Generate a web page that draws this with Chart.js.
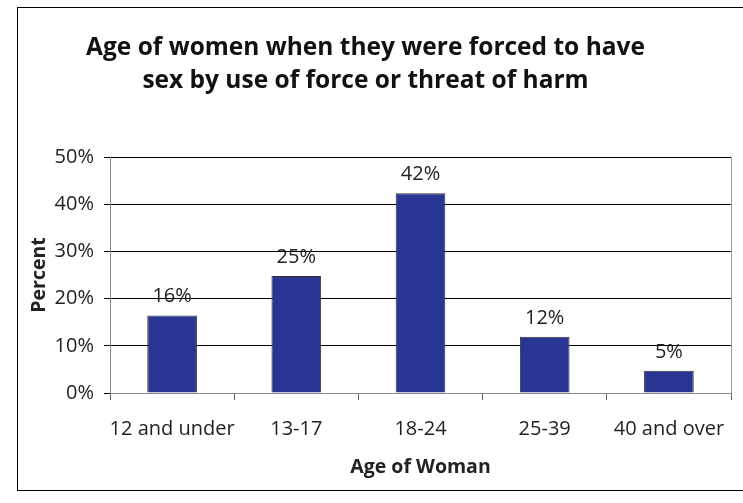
<!DOCTYPE html>
<html>
<head>
<meta charset="utf-8">
<script src="https://cdn.jsdelivr.net/npm/chart.js@4"></script>
<style>
  html, body { margin: 0; padding: 0; background: #fff; }
  #wrap { width: 743px; height: 503px; position: relative; }
</style>
</head>
<body>
<div id="wrap"><canvas id="chart"></canvas></div>
<script>
const categories = ['12 and under', '13-17', '18-24', '25-39', '40 and over'];
const percentValues = [16.4, 24.8, 42.3, 11.9, 4.7];
const percentLabels = ['16%', '25%', '42%', '12%', '5%'];
const yTicks = [0, 10, 20, 30, 40, 50];

const FONT = "'Open Sans', sans-serif";

// outer frame + plot area right edge
const framePlugin = {
    id: 'frame',
    beforeDraw(chart) {
        const c = chart.ctx;
        c.save();
        c.fillStyle = '#fff';
        c.fillRect(0, 0, chart.width, chart.height);
        c.strokeStyle = '#000';
        c.lineWidth = 1;
        c.strokeRect(17.5, 7.5, 760, 483);
        c.restore();
    },
    afterDraw(chart) {
        const a = chart.chartArea;
        const c = chart.ctx;
        c.save();
        c.strokeStyle = '#999';
        c.lineWidth = 1;
        c.beginPath();
        c.moveTo(Math.round(a.right) + 0.5, a.top);
        c.lineTo(Math.round(a.right) + 0.5, a.bottom);
        c.stroke();
        c.restore();
    }
};

// value labels above bars
const labelPlugin = {
    id: 'barLabels',
    afterDatasetsDraw(chart) {
        const meta = chart.getDatasetMeta(0);
        const c = chart.ctx;
        c.save();
        c.font = '20px ' + FONT;
        c.fillStyle = '#222';
        c.textAlign = 'center';
        c.textBaseline = 'bottom';
        meta.data.forEach((bar, i) => {
            c.fillText(percentLabels[i], bar.x, bar.y - 9);
        });
        c.restore();
    }
};

new Chart(document.getElementById('chart'), {
    type: 'bar',
    data: {
        labels: categories,
        datasets: [{
            data: percentValues,
            backgroundColor: '#283593',
            borderColor: '#333',
            borderWidth: 1,
            barPercentage: 0.4,
            categoryPercentage: 1.0
        }]
    },
    options: {
        responsive: true,
        maintainAspectRatio: false,
        animation: false,
        layout: { padding: { left: 0, right: 12, top: 0, bottom: 0 } },
        plugins: {
            legend: { display: false },
            tooltip: { enabled: false },
            title: {
                display: true,
                text: ['Age of women when they were forced to have', 'sex by use of force or threat of harm'],
                font: { family: FONT, size: 24.5, weight: 'bold', lineHeight: 1.347 },
                color: '#111',
                padding: { top: 32, bottom: 59 }
            }
        },
        scales: {
            x: {
                grid: { drawOnChartArea: false, color: '#666', tickLength: 7, offset: true },
                border: { color: '#888' },
                ticks: { font: { family: FONT, size: 20 }, color: '#222', padding: 17, maxRotation: 0, autoSkip: false },
                title: {
                    display: true, text: 'Age of Woman',
                    font: { family: FONT, size: 19.5, weight: 'bold' }, color: '#222',
                    padding: { top: 12, bottom: 24 }
                },
                afterFit(scale) { scale.height = 110; }
            },
            y: {
                min: 0, max: 50,
                afterBuildTicks(scale) { scale.ticks = yTicks.map(v => ({ value: v })); },
                grid: { color: '#000', tickLength: 6 },
                border: { color: '#888' },
                ticks: {
                    font: { family: FONT, size: 20 }, color: '#222', padding: 10,
                    callback: v => v + '%'
                },
                title: {
                    display: true, text: 'Percent',
                    font: { family: FONT, size: 19.5, weight: 'bold' }, color: '#222',
                    padding: { top: 28, bottom: 0 }
                },
                afterFit(scale) { scale.width = 110; }
            }
        }
    },
    plugins: [framePlugin, labelPlugin]
});
</script>
</body>
</html>
